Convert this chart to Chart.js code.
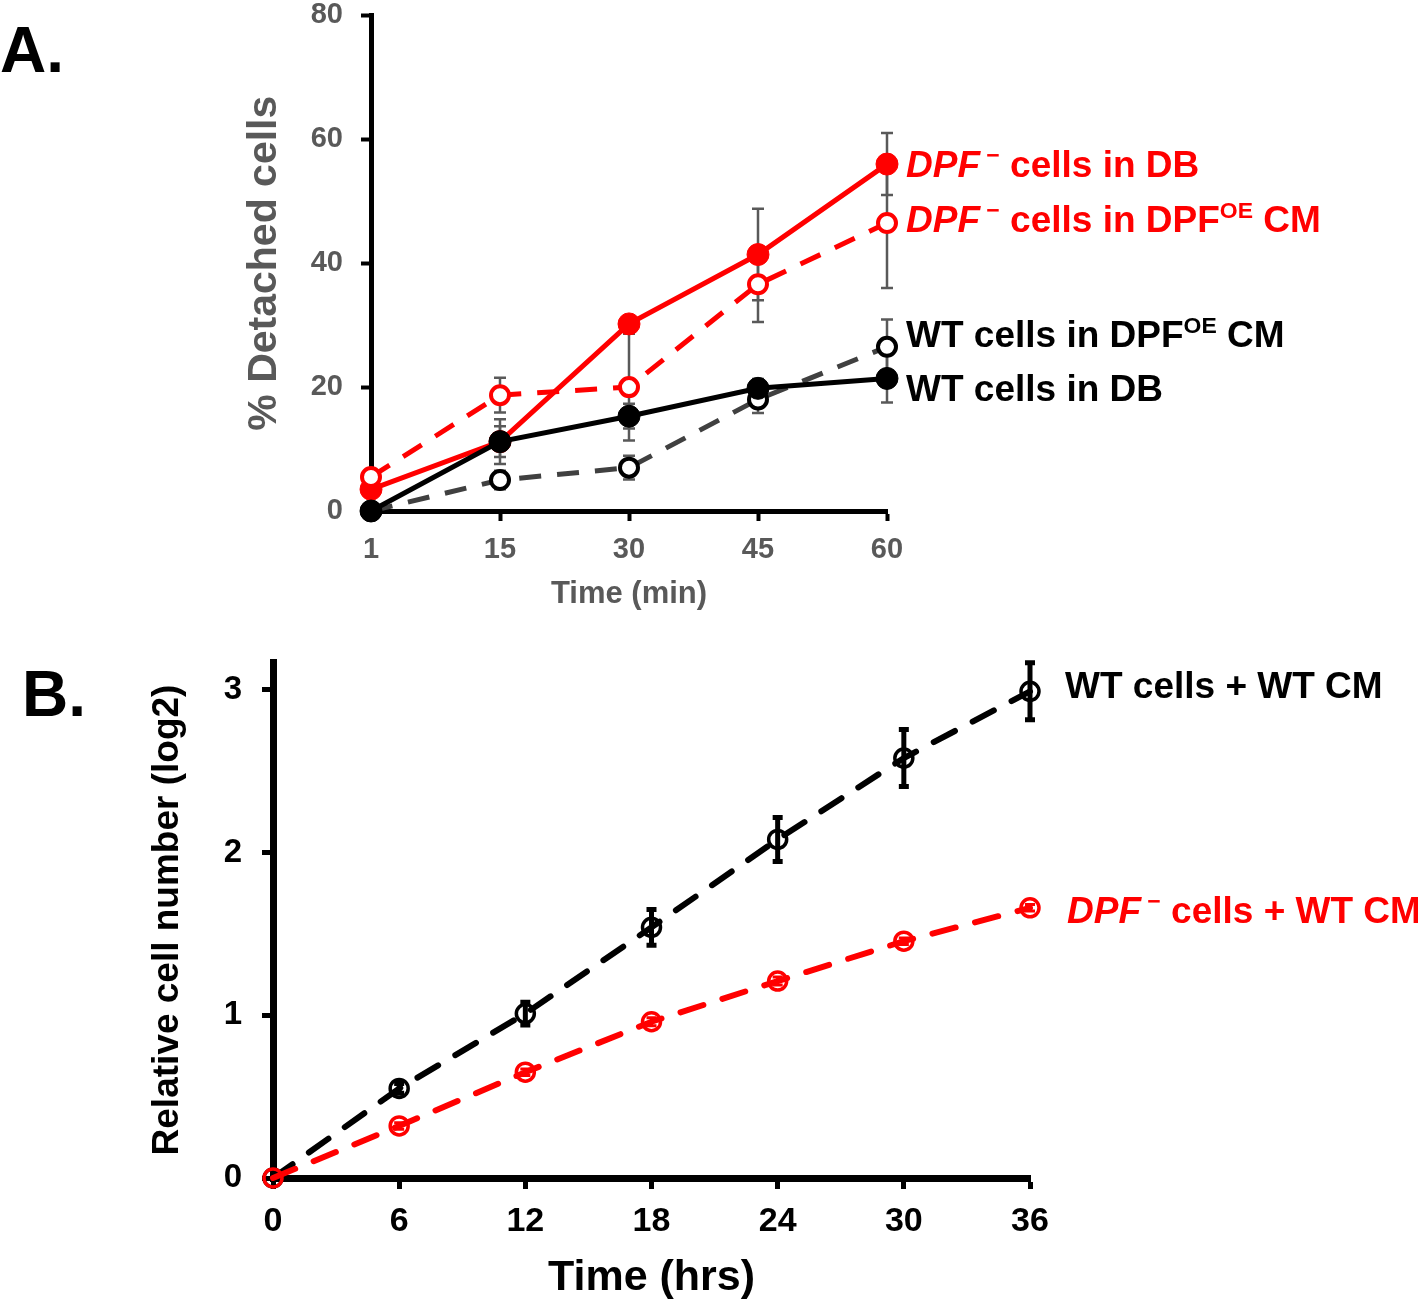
<!DOCTYPE html>
<html>
<head>
<meta charset="utf-8">
<script src="https://cdn.jsdelivr.net/npm/chart.js@4.4.1/dist/chart.umd.min.js"></script>
<style>
body { margin: 0; background: #fff; overflow: hidden; }
#wrap { position: relative; width: 1418px; height: 1301px; overflow: hidden; font-family: "Liberation Sans", Arial, sans-serif; font-weight: bold; }
.box { position: absolute; left: 0; width: 1418px; }
.lbl { position: absolute; white-space: nowrap; transform: translateY(-50%); font-size: 37px; line-height: 1; }
.lbl sup { font-size: 62%; vertical-align: 0.6em; line-height: 0; }
.red { color: #ff0000; }
.panel { font-size: 64px; }
</style>
</head>
<body>
<div id="wrap">
  <div class="box" style="top:-20px;height:640px"><canvas id="chartA"></canvas></div>
  <div class="box" style="top:620px;height:684px"><canvas id="chartB"></canvas></div>

  <div class="lbl panel" style="left:0;top:50px">A.</div>
  <div class="lbl red" style="left:906px;top:164px"><i>DPF</i><sup>&nbsp;&minus;</sup>&nbsp;cells in DB</div>
  <div class="lbl red" style="left:906px;top:219px"><i>DPF</i><sup>&nbsp;&minus;</sup>&nbsp;cells in DPF<sup>OE</sup> CM</div>
  <div class="lbl" style="left:906px;top:334px">WT cells in DPF<sup>OE</sup> CM</div>
  <div class="lbl" style="left:906px;top:388px">WT cells in DB</div>

  <div class="lbl panel" style="left:22px;top:694px">B.</div>
  <div class="lbl" style="left:1065px;top:685px">WT cells + WT CM</div>
  <div class="lbl red" style="left:1067px;top:910px"><i>DPF</i><sup>&nbsp;&minus;</sup>&nbsp;cells + WT CM</div>
</div>

<script>
// Panel A data (% detached cells)
var timesA = ['1', '15', '30', '45', '60'];
var dpfDB = [3.5, 11.2, 30.2, 41.4, 56];
var dpfDBErr = [0, 2.5, 1, 7.4, 5];
var dpfCM = [5.5, 18.7, 20, 36.6, 46.5];
var dpfCMErr = [0, 2.8, 8.6, 6.1, 10.5];
var wtCM = [0, 5, 7, 18, 26.5];
var wtCMErr = [0, 1.5, 1.9, 2.2, 4.4];
var wtDB = [0, 11.2, 15.3, 19.8, 21.4];
var wtDBErr = [0, 3.6, 2, 1.5, 3.9];
var ticksA = [0, 20, 40, 60, 80];

// Panel B data (relative cell number, log2)
var hoursB = [0, 6, 12, 18, 24, 30, 36];
var wtWT = [0, 0.55, 1.01, 1.54, 2.08, 2.58, 2.99];
var wtWTErr = [0, 0.03, 0.07, 0.11, 0.135, 0.175, 0.175];
var dpfWT = [0, 0.32, 0.65, 0.96, 1.21, 1.455, 1.66];
var dpfWTErr = [0, 0.02, 0.02, 0.025, 0.025, 0.02, 0.02];

Chart.defaults.font.family = '"Liberation Sans", Arial, sans-serif';
Chart.defaults.font.weight = 'bold';

function pairs(xs, ys) {
  return ys.map(function (y, i) { return { x: xs[i], y: y }; });
}

function drawBars(chart, opts) {
  var ctx = chart.ctx;
  var yScale = chart.scales.y;
  ctx.save();
  chart.data.datasets.forEach(function (ds, i) {
    if (!ds.errors) return;
    var meta = chart.getDatasetMeta(i);
    ctx.strokeStyle = ds.errorColor;
    ctx.lineWidth = ds.errorWidth || opts.width;
    meta.data.forEach(function (pt, j) {
      var e = ds.errors[j];
      if (!e) return;
      var v = ds.data[j].y !== undefined ? ds.data[j].y : ds.data[j];
      var top = yScale.getPixelForValue(v + e);
      var bot = yScale.getPixelForValue(v - e);
      ctx.beginPath();
      ctx.moveTo(pt.x, top);
      ctx.lineTo(pt.x, bot);
      ctx.moveTo(pt.x - opts.cap, top);
      ctx.lineTo(pt.x + opts.cap, top);
      ctx.moveTo(pt.x - opts.cap, bot);
      ctx.lineTo(pt.x + opts.cap, bot);
      ctx.stroke();
    });
  });
  ctx.restore();
}

var errorBarPlugin = {
  id: 'errorBars',
  beforeDatasetsDraw: function (chart, args, opts) { if (opts.under) drawBars(chart, opts); },
  afterDatasetsDraw: function (chart, args, opts) { if (!opts.under) drawBars(chart, opts); }
};

// ---------- Panel A ----------
var grayTxt = '#595959';
new Chart(document.getElementById('chartA'), {
  type: 'line',
  data: {
    labels: timesA,
    datasets: [
      {
        data: wtDB, errors: wtDBErr, errorColor: grayTxt,
        borderColor: '#000', borderWidth: 5,
        pointRadius: 11, pointBackgroundColor: '#000', pointBorderColor: '#000', pointBorderWidth: 1
      },
      {
        data: dpfCM, errors: dpfCMErr, errorColor: grayTxt,
        borderColor: '#ff0000', borderWidth: 5, borderDash: [22, 16],
        pointRadius: 9, pointBackgroundColor: '#fff', pointBorderColor: '#ff0000', pointBorderWidth: 4
      },
      {
        data: dpfDB, errors: dpfDBErr, errorColor: grayTxt,
        borderColor: '#ff0000', borderWidth: 5,
        pointRadius: 11, pointBackgroundColor: '#ff0000', pointBorderColor: '#ff0000', pointBorderWidth: 1
      },
      {
        data: wtCM, errors: wtCMErr, errorColor: grayTxt,
        borderColor: '#404040', borderWidth: 5, borderDash: [22, 16],
        pointRadius: 9, pointBackgroundColor: '#fff', pointBorderColor: '#000', pointBorderWidth: 4
      }
    ]
  },
  options: {
    responsive: true,
    maintainAspectRatio: false,
    animation: false,
    layout: { padding: { left: 236, right: 531, top: 13, bottom: 0 } },
    elements: { line: { tension: 0 } },
    datasets: { line: { clip: false } },
    plugins: {
      legend: { display: false },
      tooltip: { enabled: false },
      errorBars: { under: true, width: 2.5, cap: 6 }
    },
    scales: {
      x: {
        type: 'category',
        offset: false,
        afterFit: function (s) { s.height = 109; },
        grid: { drawOnChartArea: false, drawTicks: true, tickLength: 10, tickWidth: 4, tickColor: '#000', color: '#000' },
        border: { display: true, color: '#000', width: 5 },
        ticks: { color: grayTxt, font: { size: 29, weight: 'bold' }, padding: 12, maxRotation: 0 },
        title: { display: true, text: 'Time (min)', color: grayTxt, font: { size: 31, weight: 'bold' }, padding: { top: 4, bottom: 7 } }
      },
      y: {
        min: ticksA[0],
        max: ticksA[ticksA.length - 1],
        afterFit: function (s) { s.width = 135; },
        afterBuildTicks: function (s) { s.ticks = ticksA.map(function (v) { return { value: v }; }); },
        grid: { drawOnChartArea: false, drawTicks: true, tickLength: 10, tickWidth: 4, tickColor: '#000', color: '#000' },
        border: { display: true, color: '#000', width: 5 },
        ticks: { color: grayTxt, font: { size: 29, weight: 'bold' }, padding: 18 },
        title: { display: true, text: '% Detached cells', color: grayTxt, font: { size: 41, weight: 'bold' }, padding: { top: 4, bottom: 4 } }
      }
    }
  },
  plugins: [errorBarPlugin]
});

// ---------- Panel B ----------
new Chart(document.getElementById('chartB'), {
  type: 'line',
  data: {
    datasets: [
      {
        data: pairs(hoursB, dpfWT), errors: dpfWTErr, errorColor: '#ff0000', errorWidth: 3,
        borderColor: '#ff0000', borderWidth: 6, borderDash: [24, 20], borderCapStyle: 'round',
        pointRadius: 9, pointBackgroundColor: 'rgba(255,255,255,0)', pointBorderColor: '#ff0000', pointBorderWidth: 3.5
      },
      {
        data: pairs(hoursB, wtWT), errors: wtWTErr, errorColor: '#000',
        borderColor: '#000', borderWidth: 6, borderDash: [24, 20], borderCapStyle: 'round',
        pointRadius: 9, pointBackgroundColor: 'rgba(255,255,255,0)', pointBorderColor: '#000', pointBorderWidth: 3.5
      }
    ]
  },
  options: {
    responsive: true,
    maintainAspectRatio: false,
    animation: false,
    layout: { padding: { left: 142, right: 388, top: 42, bottom: 0 } },
    elements: { line: { tension: 0 } },
    datasets: { line: { clip: false } },
    plugins: {
      legend: { display: false },
      tooltip: { enabled: false },
      errorBars: { under: false, width: 5, cap: 5 }
    },
    scales: {
      x: {
        type: 'linear',
        min: 0,
        max: 36,
        afterFit: function (s) { s.height = 126; },
        grid: { drawOnChartArea: false, drawTicks: true, tickLength: 11, tickWidth: 5, tickColor: '#000', color: '#000' },
        border: { display: true, color: '#000', width: 7 },
        ticks: { stepSize: 6, color: '#000', font: { size: 34, weight: 'bold' }, padding: 12, maxRotation: 0 },
        title: { display: true, text: 'Time (hrs)', color: '#000', font: { size: 43, weight: 'bold' }, padding: { top: 4, bottom: 0 } }
      },
      y: {
        min: 0,
        max: 3.17,
        afterFit: function (s) { s.width = 131; },
        grid: { drawOnChartArea: false, drawTicks: true, tickLength: 11, tickWidth: 5, tickColor: '#000', color: '#000' },
        border: { display: true, color: '#000', width: 7 },
        ticks: { stepSize: 1, includeBounds: false, color: '#000', font: { size: 33, weight: 'bold' }, padding: 20 },
        title: { display: true, text: 'Relative cell number (log2)', color: '#000', font: { size: 37, weight: 'bold' }, padding: { top: 4, bottom: 4 } }
      }
    }
  },
  plugins: [errorBarPlugin]
});
</script>
</body>
</html>
